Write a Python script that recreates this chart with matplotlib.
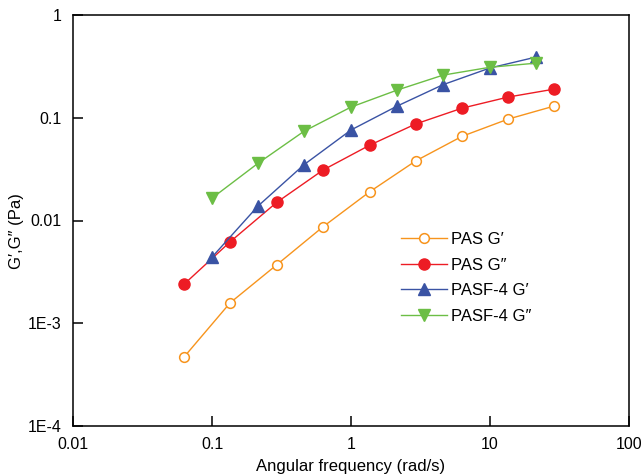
import matplotlib.pyplot as plt
from matplotlib.ticker import FixedLocator, FixedFormatter, NullLocator

plt.rcParams['font.family'] = ['Liberation Sans', 'DejaVu Sans']

# angular frequency (rad/s)
w_pas = [0.063, 0.135, 0.292, 0.63, 1.36, 2.92, 6.3, 13.5, 29.0]
w_pasf = [0.1, 0.214, 0.46, 1.0, 2.15, 4.6, 10.0, 21.5]

# moduli (Pa)
pas_g1 = [4.7e-4, 1.58e-3, 3.7e-3, 8.7e-3, 0.019, 0.038, 0.066, 0.097, 0.13]
pas_g2 = [2.4e-3, 6.2e-3, 0.015, 0.031, 0.054, 0.087, 0.124, 0.159, 0.19]
pasf_g1 = [4.4e-3, 0.0138, 0.035, 0.076, 0.13, 0.21, 0.305, 0.39]
pasf_g2 = [0.0165, 0.036, 0.074, 0.127, 0.186, 0.26, 0.31, 0.34]

labels = ['PAS G\u2032', 'PAS G\u2033', 'PASF-4 G\u2032', 'PASF-4 G\u2033']
xticks = [0.01, 0.1, 1, 10, 100]
xticklabels = ['0.01', '0.1', '1', '10', '100']
yticks = [1e-4, 1e-3, 0.01, 0.1, 1]
yticklabels = ['1E-4', '1E-3', '0.01', '0.1', '1']

fig = plt.figure(figsize=(6.44, 4.75), dpi=100)
ax = fig.add_axes([73 / 644, 1 - 426 / 475, (629 - 73) / 644, (426 - 15) / 475])

ax.plot(w_pas, pas_g1, '-o', color='#F7941D', mfc='white', mec='#F7941D', ms=7, lw=1.0, mew=1.1, label=labels[0])
ax.plot(w_pas, pas_g2, '-o', color='#ED1C24', ms=8, lw=1.0, label=labels[1])
ax.plot(w_pasf, pasf_g1, '-^', color='#3A53A4', ms=9, lw=1.0, label=labels[2])
ax.plot(w_pasf, pasf_g2, '-v', color='#6CBE45', ms=9, lw=1.0, label=labels[3])

ax.set_xscale('log')
ax.set_yscale('log')
ax.set_xlim(0.01, 100)
ax.set_ylim(1e-4, 1)
ax.xaxis.set_major_locator(FixedLocator(xticks))
ax.xaxis.set_major_formatter(FixedFormatter(xticklabels))
ax.yaxis.set_major_locator(FixedLocator(yticks))
ax.yaxis.set_major_formatter(FixedFormatter(yticklabels))
ax.xaxis.set_minor_locator(NullLocator())
ax.yaxis.set_minor_locator(NullLocator())
ax.tick_params(direction='in', length=7, width=1.1, labelsize=11.5, pad=8, colors='black')
for s in ax.spines.values():
    s.set_linewidth(1.1)

ax.set_xlabel('Angular frequency (rad/s)', fontsize=12, labelpad=5)
ax.set_ylabel('G\u2032,G\u2033 (Pa)', fontsize=12)
ax.yaxis.set_label_coords(-0.088, 0.474)

ax.legend(loc='upper left', bbox_to_anchor=(401 / 644, 1 - 232 / 475), bbox_transform=fig.transFigure,
          frameon=False, fontsize=12, borderpad=0, borderaxespad=0,
          handlelength=2.75, handletextpad=0.25, labelspacing=0.64)

fig.savefig('out.png', dpi=100)
